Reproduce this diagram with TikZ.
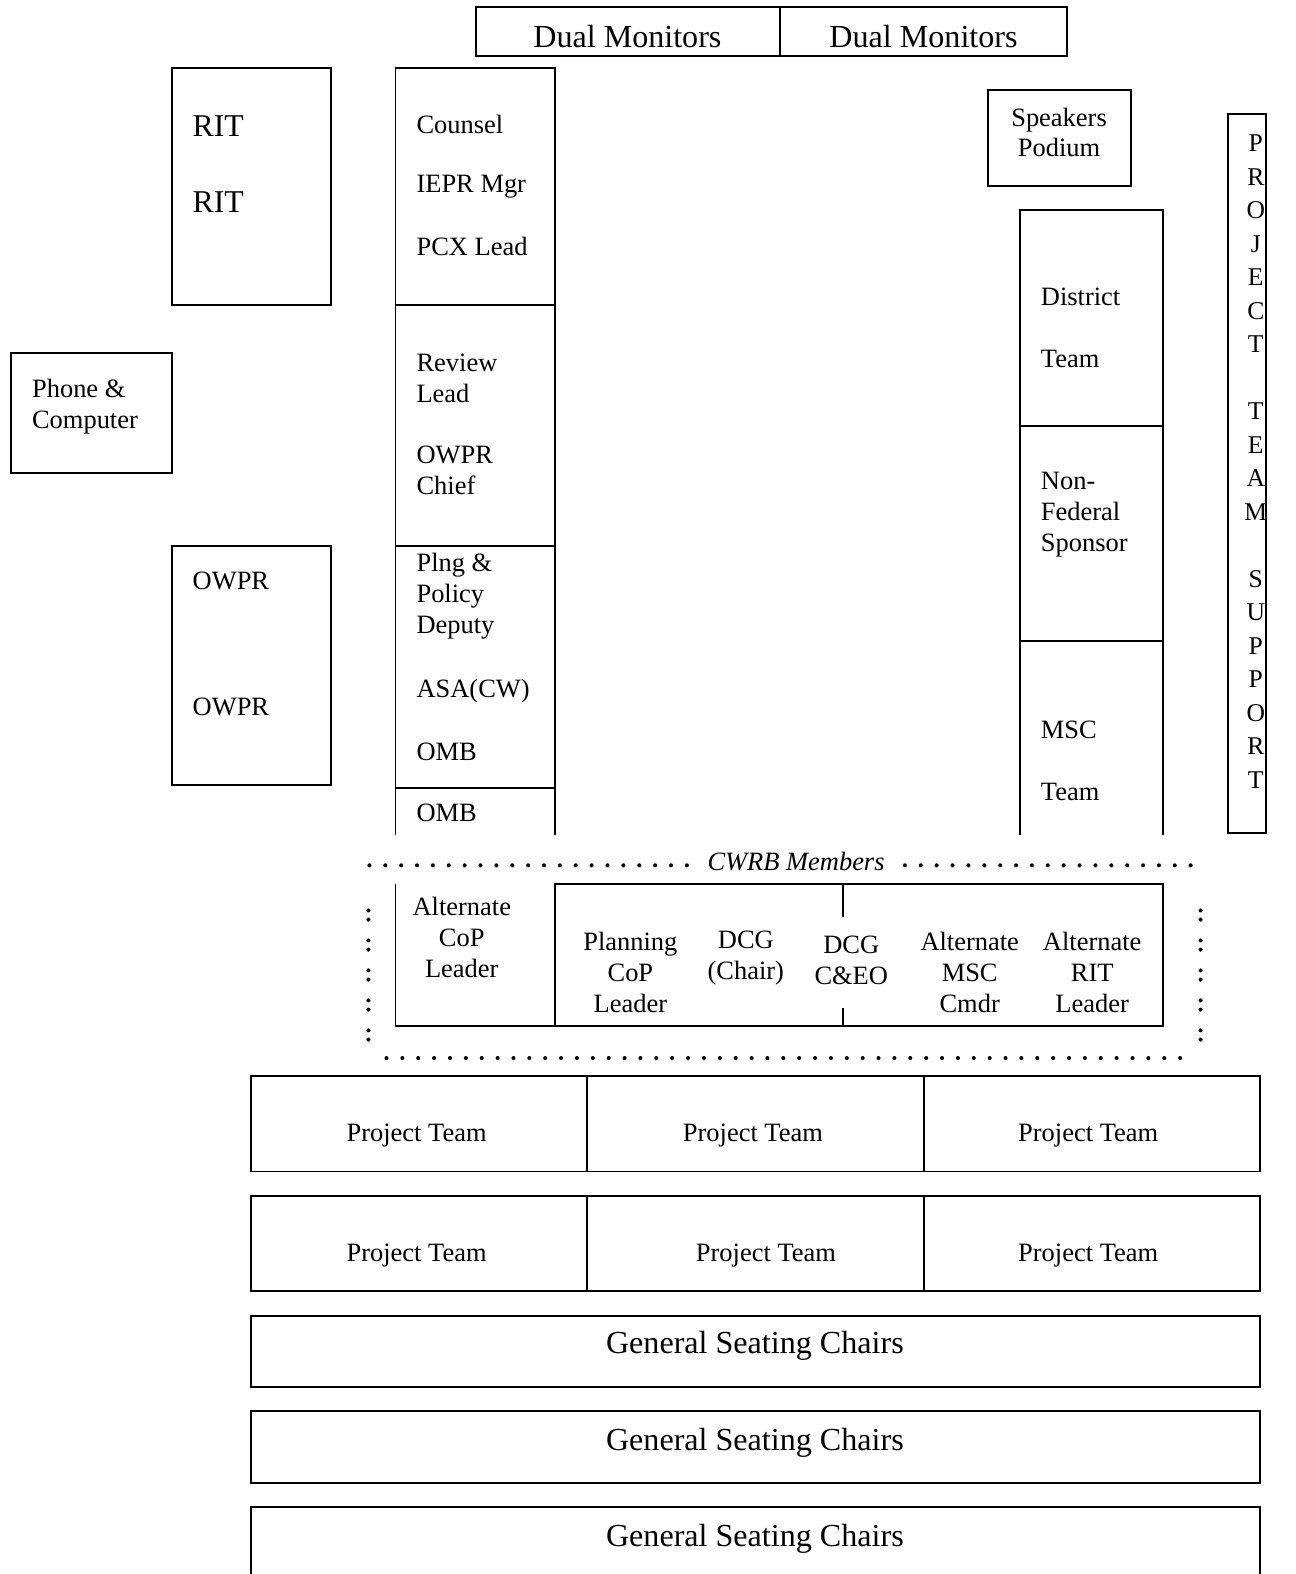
\documentclass[tikz,border=0pt]{standalone}
\usepackage{fontspec}
\setmainfont{Liberation Serif}

\newcommand{\seatfont}{\fontsize{15}{17.5}\selectfont}
\newcommand{\bigseatfont}{\fontsize{18.2}{21}\selectfont}

\tikzset{
  dotrow/.style={line width=2.3pt,line cap=round,dash pattern=on 0pt off 9pt},
  colonrow/.style={line width=2.3pt,line cap=round,dash pattern=on 0pt off 5.2pt on 0pt off 11.8pt}
}

\begin{document}
\begin{tikzpicture}[x=0.02cm,y=-0.02cm,line width=1.1pt]
\useasboundingbox (0,0) rectangle (1291,1568);

% walls of the tables and boxes
\draw (474,7) rectangle (1063,56) (777,7) -- (777,56);
\draw (171,68) rectangle (330,304);
\draw (11,352) rectangle (171,471);
\draw (171,544) rectangle (330,782);
\draw (984,90) rectangle (1127,185);
\draw (1223,114) rectangle (1261,830);
\draw (394,832) -- (394,68) -- (553,68) -- (553,832);
\foreach \y in {304,544,785} \draw (394,\y) -- (553,\y);
\draw (1016,832) -- (1016,209) -- (1159,209) -- (1159,832);
\foreach \y in {424,639} \draw (1016,\y) -- (1159,\y);

% CWRB table
\draw (394,881) -- (394,1022) -- (1159,1022) -- (1159,881) -- (553,881) -- (553,1022);
\draw (840,881) -- (840,913) (840,1004) -- (840,1022);

% rows of seats
\foreach \t in {1072,1191} {
  \draw (250,\t) rectangle (1255,\t+95);
  \draw (585,\t) -- (585,\t+95) (920,\t) -- (920,\t+95);
}
\draw (250,1311) rectangle (1255,1382);
\draw (250,1406) rectangle (1255,1477);
\draw (250,1568) -- (250,1501) -- (1255,1501) -- (1255,1568);

\begin{scope}[every node/.style={anchor=west,align=left,inner sep=0pt,font=\seatfont}]
    \node (counsel) at (414,124) {Counsel};
    \node (ieprmgr) at (414,186) {IEPR Mgr};
    \node (pcxlead) at (414,246) {PCX Lead};
    \node (reviewlead) at (414,377) {Review\\Lead};
    \node (owprchief) at (414,469) {OWPR\\Chief};
    \node (deputy) at (414,594) {Plng \&\\Policy\\Deputy};
    \node (asacw) at (414,688) {ASA(CW)};
    \node (omba) at (414,749) {OMB};
    \node (ombb) at (414,810) {OMB};
    \node (phone) at (31,405) {Phone \&\\Computer};
    \node (owpra) at (191,579) {OWPR};
    \node (owprb) at (191,704) {OWPR};
    \node (district) at (1036,296) {District};
    \node (districtteam) at (1036,358) {Team};
    \node (sponsor) at (1036,513) {Non-\\Federal\\Sponsor};
    \node (msc) at (1036,727) {MSC};
    \node (mscteam) at (1036,789) {Team};
\end{scope}

\begin{scope}[every node/.style={anchor=west,inner sep=0pt,font=\fontsize{18}{21}\selectfont}]
    \node (rita) at (191,126) {RIT};
    \node (ritb) at (191,201) {RIT};
\end{scope}

\begin{scope}[every node/.style={align=center,inner sep=0pt,font=\seatfont}]
    \node (podium) at (1055,132) {Speakers\\Podium};
    \node[font=\fontsize{14.5}{19}\selectfont] (support) at (1251,460)
      {P\\R\\O\\J\\E\\C\\T\\[19pt]T\\E\\A\\M\\[19pt]S\\U\\P\\P\\O\\R\\T};
    \node (altcop) at (460,934) {Alternate\\CoP\\Leader};
    \node (plancop) at (628,969) {Planning\\CoP\\Leader};
    \node (dcgchair) at (743,954) {DCG\\(Chair)};
    \node (dcgceo) at (848,957) {DCG\\C\&EO};
    \node (altmsc) at (966,969) {Alternate\\MSC\\Cmdr};
    \node (altrit) at (1088,969) {Alternate\\RIT\\Leader};
    \node (pt1) at (415,1131) {Project Team};
    \node (pt2) at (750,1131) {Project Team};
    \node (pt3) at (1084,1131) {Project Team};
    \node (pt4) at (415,1251) {Project Team};
    \node (pt5) at (763,1251) {Project Team};
    \node (pt6) at (1084,1251) {Project Team};
\end{scope}

\begin{scope}[every node/.style={inner sep=0pt,font=\bigseatfont}]
    \node (mon1) at (625,36) {Dual Monitors};
    \node (mon2) at (920,36) {Dual Monitors};
    \node (gen1) at (752,1341) {General Seating Chairs};
    \node (gen2) at (752,1437) {General Seating Chairs};
    \node (gen3) at (752,1533) {General Seating Chairs};
\end{scope}

% dotted frame round the members
\node[inner sep=0pt,font=\itshape\seatfont] (cwrb) at (793,858) {CWRB Members};
\draw[dotrow] (368,862) -- ([xshift=-11pt]cwrb.west |- 0,862);
\draw[dotrow] ([xshift=11pt]cwrb.east |- 0,862) -- (1200,862);
\draw[colonrow] (367,907) -- (367,1040);
\draw[colonrow] (1196,907) -- (1196,1040);
\draw[dotrow] (385,1054) -- (1190,1054);
\end{tikzpicture}
\end{document}
